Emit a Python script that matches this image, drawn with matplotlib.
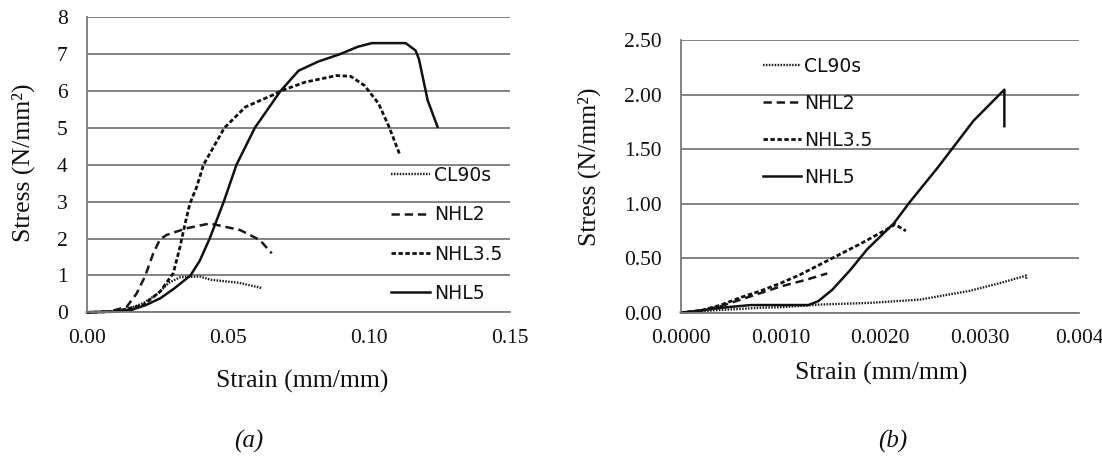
import matplotlib
matplotlib.use("Agg")
import matplotlib.pyplot as plt
from matplotlib.lines import Line2D

plt.rcParams['lines.scale_dashes'] = False

# ---------------- data (a) ----------------
cl90s_a_x = [0, 0.010, 0.015, 0.020, 0.025, 0.029, 0.033, 0.040, 0.044, 0.054, 0.0618]
cl90s_a_y = [0, 0.02, 0.10, 0.25, 0.50, 0.80, 0.95, 0.97, 0.88, 0.80, 0.66]

nhl2_a_x = [0, 0.008, 0.0141, 0.0176, 0.0206, 0.0235, 0.0259, 0.0283, 0.0354, 0.0436, 0.0543, 0.0613, 0.0655]
nhl2_a_y = [0, 0.02, 0.15, 0.51, 0.98, 1.60, 1.98, 2.10, 2.28, 2.41, 2.23, 1.96, 1.60]

nhl35_a_x = [0, 0.010, 0.020, 0.0259, 0.0306, 0.033, 0.0348, 0.0365, 0.0389, 0.0413, 0.0487,
             0.0562, 0.0661, 0.0686, 0.0773, 0.0885, 0.0935, 0.0984, 0.1034, 0.1071, 0.1108]
nhl35_a_y = [0, 0.02, 0.20, 0.56, 1.06, 1.78, 2.41, 2.95, 3.40, 4.00, 5.00,
             5.57, 5.90, 6.00, 6.24, 6.42, 6.40, 6.15, 5.66, 5.03, 4.30]

nhl5_a_x = [0, 0.010, 0.016, 0.021, 0.026, 0.031, 0.0367, 0.040, 0.0435, 0.0485, 0.053, 0.0595,
            0.0686, 0.075, 0.082, 0.0897, 0.096, 0.101, 0.113, 0.1165, 0.1177, 0.1208, 0.1243]
nhl5_a_y = [0, 0.02, 0.07, 0.20, 0.38, 0.65, 1.00, 1.40, 2.00, 3.00, 4.00, 5.00,
            6.00, 6.55, 6.80, 7.00, 7.20, 7.30, 7.30, 7.10, 6.87, 5.75, 5.03]

# ---------------- data (b) ----------------
cl90s_b_x = [0, 0.0003, 0.0008, 0.0010, 0.0014, 0.0019, 0.0024, 0.0029, 0.0032, 0.00347, 0.00347]
cl90s_b_y = [0, 0.02, 0.045, 0.05, 0.075, 0.09, 0.12, 0.20, 0.27, 0.34, 0.30]

nhl2_b_x = [0, 0.0002, 0.0004, 0.0006, 0.0008, 0.0010, 0.00125, 0.00147]
nhl2_b_y = [0, 0.02, 0.06, 0.12, 0.18, 0.24, 0.30, 0.36]

nhl35_b_x = [0, 0.0002, 0.0004, 0.0006, 0.0008, 0.0010, 0.0012, 0.0015, 0.0018, 0.0021, 0.00215, 0.00226]
nhl35_b_y = [0, 0.02, 0.07, 0.14, 0.20, 0.27, 0.35, 0.49, 0.63, 0.78, 0.81, 0.75]

nhl5_b_x = [0, 0.0002, 0.0004, 0.0007, 0.00128, 0.00138, 0.00152, 0.00170, 0.00187, 0.00214,
            0.00230, 0.00258, 0.00276, 0.00294, 0.00325, 0.00325]
nhl5_b_y = [0, 0.02, 0.045, 0.07, 0.07, 0.106, 0.21, 0.39, 0.58, 0.82,
            1.015, 1.33, 1.545, 1.76, 2.045, 1.71]

series_labels = ["CL90s", "NHL2", "NHL3.5", "NHL5"]

a_xticks = [0.00, 0.05, 0.10, 0.15]
a_xticklabels = ["0.00", "0.05", "0.10", "0.15"]
a_yticks = [0, 1, 2, 3, 4, 5, 6, 7, 8]
a_yticklabels = ["0", "1", "2", "3", "4", "5", "6", "7", "8"]

b_xticks = [0.0, 0.001, 0.002, 0.003, 0.004]
b_xticklabels = ["0.0000", "0.0010", "0.0020", "0.0030", "0.004"]
b_yticks = [0.0, 0.5, 1.0, 1.5, 2.0, 2.5]
b_yticklabels = ["0.00", "0.50", "1.00", "1.50", "2.00", "2.50"]

# ---------------- styles ----------------
styles = [
    dict(color="#1a1a1a", lw=1.7, dashes=(1.1, 1.0)),   # CL90s dotted
    dict(color="#1a1a1a", lw=1.8, dashes=(6.0, 3.5)),   # NHL2 long dash
    dict(color="#111111", lw=2.0, dashes=(3.2, 1.8)),   # NHL3.5 short dash
    dict(color="#111111", lw=1.8),                      # NHL5 solid
]

W, H = 1102, 459
fig = plt.figure(figsize=(W / 100, H / 100), dpi=100)

serif = ["Liberation Serif", "DejaVu Serif"]
sans = ["DejaVu Sans"]
grid_color = "#7a7a7a"


def make_axes(rect_px):
    x0, y_top, x1, y_bot = rect_px
    ax = fig.add_axes([x0 / W, 1 - y_bot / H, (x1 - x0) / W, (y_bot - y_top) / H])
    return ax


def style_axes(ax, xlim, ylim, xt, xtl, yt, ytl):
    ax.set_xlim(*xlim)
    ax.set_ylim(*ylim)
    ax.set_xticks(xt)
    ax.set_xticklabels(xtl, fontfamily=serif, fontsize=15.5)
    ax.set_yticks(yt)
    ax.set_yticklabels(ytl, fontfamily=serif, fontsize=15.5)
    ax.tick_params(length=0, labelcolor="#111111")
    ax.tick_params(axis="x", pad=12)
    ax.tick_params(axis="y", pad=14)
    ax.yaxis.grid(True, color=grid_color, lw=1.3)
    ax.set_axisbelow(True)
    for s in ["top", "right"]:
        ax.spines[s].set_visible(False)
    for s in ["left", "bottom"]:
        ax.spines[s].set_color(grid_color)
        ax.spines[s].set_linewidth(1.3)
    ax.patch.set_alpha(0)


# ---------------- (a) ----------------
axa = make_axes((87, 17.3, 510, 312.3))
data_a = [(cl90s_a_x, cl90s_a_y), (nhl2_a_x, nhl2_a_y), (nhl35_a_x, nhl35_a_y), (nhl5_a_x, nhl5_a_y)]
for (xs, ys), st, lab in zip(data_a, styles, series_labels):
    axa.plot(xs, ys, label=lab, clip_on=False, **st)
style_axes(axa, (0, 0.15), (0, 8), a_xticks, a_xticklabels, a_yticks, a_yticklabels)

# ---------------- (b) ----------------
axb = make_axes((681, 40, 1079, 312.7))
data_b = [(cl90s_b_x, cl90s_b_y), (nhl2_b_x, nhl2_b_y), (nhl35_b_x, nhl35_b_y), (nhl5_b_x, nhl5_b_y)]
for (xs, ys), st, lab in zip(data_b, styles, series_labels):
    axb.plot(xs, ys, label=lab, clip_on=False, **st)
style_axes(axb, (0, 0.004), (0, 2.5), b_xticks, b_xticklabels, b_yticks, b_yticklabels)

# ---------------- legends ----------------
fs_leg = 13.5


def add_legend(ax, x_px, y_px, spacing, hl):
    handles = [Line2D([], [], **st) for st in styles]
    leg = ax.legend(handles, series_labels, loc="upper left",
                    bbox_to_anchor=(x_px / W, 1 - y_px / H), bbox_transform=fig.transFigure,
                    frameon=False, borderpad=0, borderaxespad=0,
                    handlelength=hl, handletextpad=0.2, labelspacing=spacing,
                    prop={"family": sans, "size": fs_leg})
    for t in leg.get_texts():
        t.set_color("#111111")
    return leg


add_legend(axa, 391, 166, 1.08, 2.1)
add_legend(axb, 763, 57, 0.96, 2.0)

# ---------------- axis labels ----------------
lab_kw = dict(fontfamily=serif, fontsize=18.5, color="#111111")
fig.text(302 / W, 1 - 381 / H, "Strain (mm/mm)", ha="center", va="center", **lab_kw)
fig.text(881 / W, 1 - 373 / H, "Strain (mm/mm)", ha="center", va="center", **lab_kw)
fig.text(23 / W, 1 - 163 / H, "Stress (N/mm²)", ha="center", va="center", rotation=90, **lab_kw)
fig.text(589 / W, 1 - 167 / H, "Stress (N/mm²)", ha="center", va="center", rotation=90, **lab_kw)

cap_kw = dict(fontfamily=serif, fontsize=18, style="italic", color="#111111")
fig.text(249 / W, 1 - 441 / H, "(a)", ha="center", va="center", **cap_kw)
fig.text(893 / W, 1 - 441 / H, "(b)", ha="center", va="center", **cap_kw)

fig.savefig("out.png", dpi=100)
